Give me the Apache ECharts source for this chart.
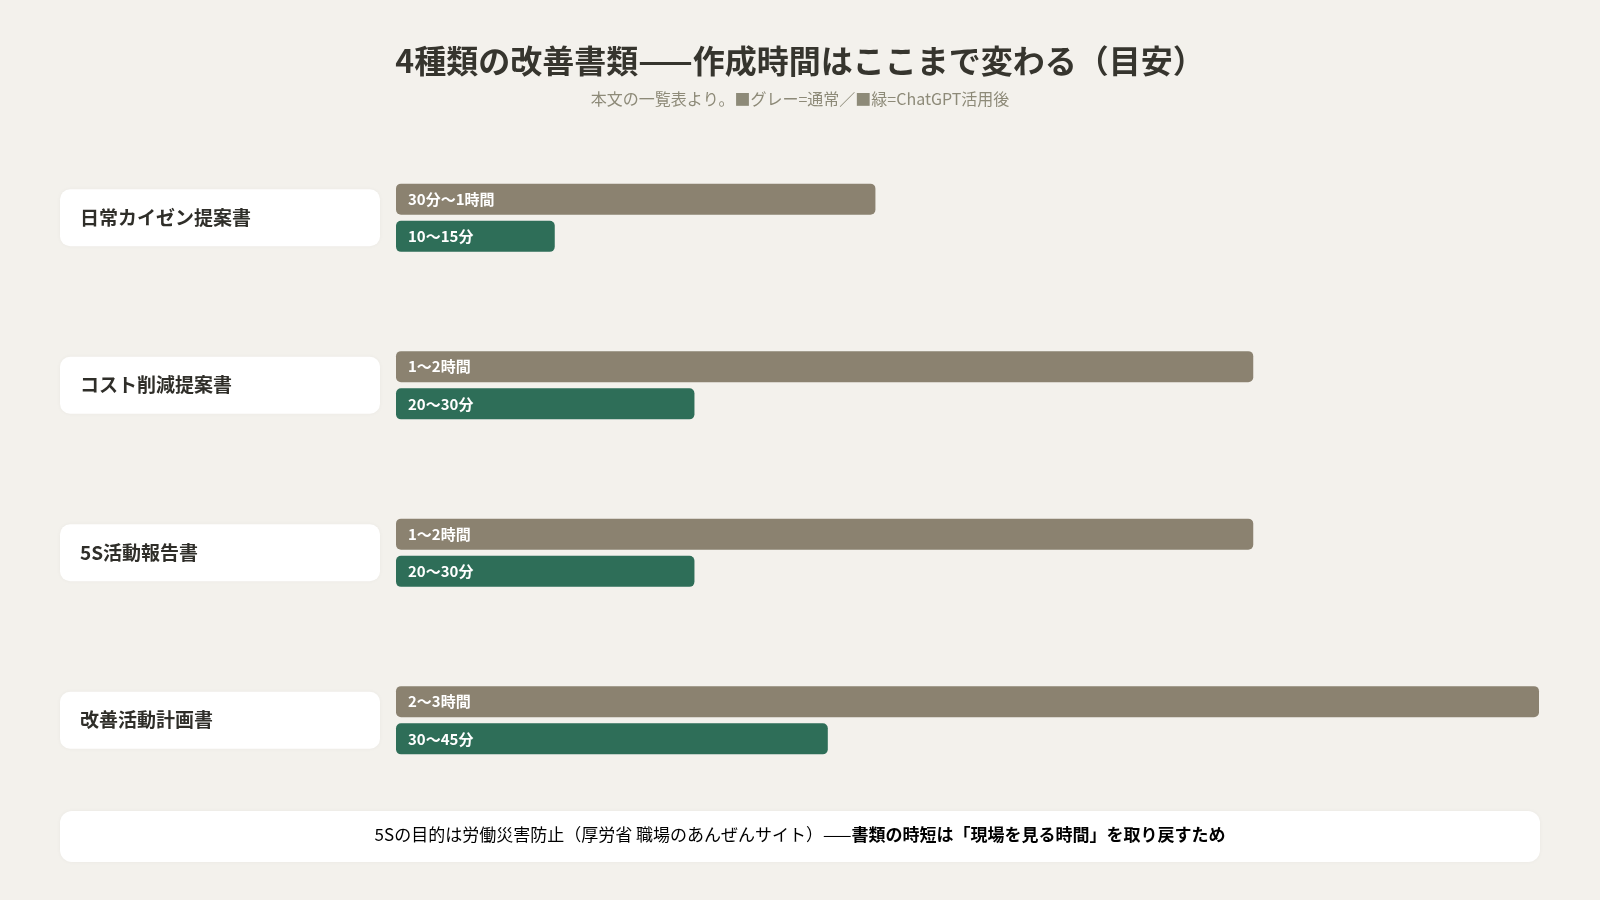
<!DOCTYPE html>
<html><head><meta charset="utf-8">
<script src="https://cdn.jsdelivr.net/npm/echarts@6/dist/echarts.min.js"></script>
<style>html,body{margin:0;background:#F3F1EC}#chart{width:1600px;height:900px}</style>
</head><body><div id="chart"></div>
<script>
var categories = ['日常カイゼン提案書', 'コスト削減提案書', '5S活動報告書', '改善活動計画書'];
var normalValues = [75.5, 135, 135, 180];   // minutes (bar length as drawn)
var gptValues = [25, 47, 47, 68];
var normalLabels = ['30分〜1時間', '1〜2時間', '1〜2時間', '2〜3時間'];
var gptLabels = ['10〜15分', '20〜30分', '20〜30分', '30〜45分'];
var FONT = '"Noto Sans CJK JP", sans-serif';

var chart = echarts.init(document.getElementById('chart'));
function lab(arr) {
  return {
    show: true, position: 'insideLeft', distance: 12, color: '#fff',
    fontWeight: 'bold', fontSize: 15, fontFamily: FONT,
    formatter: function (p) { return arr[p.dataIndex]; }
  };
}
chart.setOption({
  backgroundColor: '#F3F1EC',
  animation: false,
  title: {
    text: '4種類の改善書類——作成時間はここまで変わる（目安）',
    subtext: '本文の一覧表より。■グレー=通常／■緑=ChatGPT活用後',
    left: 'center', top: 40, itemGap: 14,
    textStyle: { fontSize: 32, fontWeight: 'bold', color: '#36352e', fontFamily: FONT },
    subtextStyle: { fontSize: 16, color: '#8d8a78', fontFamily: FONT }
  },
  grid: { left: 396, right: 61, top: 134, height: 670 },
  xAxis: { type: 'value', min: 0, max: 180, show: false },
  yAxis: {
    type: 'category', data: categories, inverse: true,
    axisLine: { show: false }, axisTick: { show: false },
    axisLabel: {
      margin: 336, align: 'left', backgroundColor: '#fff', borderRadius: 10,
      width: 300, height: 57, lineHeight: 57, padding: [0, 0, 0, 20],
      fontSize: 19, fontWeight: 'bold', color: '#2f2e29', fontFamily: FONT,
      shadowColor: 'rgba(0,0,0,0.04)', shadowBlur: 4
    }
  },
  series: [
    { type: 'bar', data: normalValues, barWidth: 31, barGap: '20%',
      itemStyle: { color: '#8B8270', borderRadius: 5 }, label: lab(normalLabels) },
    { type: 'bar', data: gptValues, barWidth: 31,
      itemStyle: { color: '#2E6E58', borderRadius: 5 }, label: lab(gptLabels) }
  ],
  graphic: [
    { type: 'rect', left: 60, top: 811, shape: { width: 1480, height: 51, r: 12 },
      style: { fill: '#fff', shadowColor: 'rgba(0,0,0,0.04)', shadowBlur: 4 } },
    { type: 'text', left: 'center', top: 826,
      style: {
        text: '{a|5Sの目的は労働災害防止（厚労省 職場のあんぜんサイト）——}{b|書類の時短は「現場を見る時間」を取り戻すため}',
        rich: {
          a: { fontSize: 17, color: '#3a3934', fontFamily: FONT },
          b: { fontSize: 17, color: '#2E6E58', fontWeight: 'bold', fontFamily: FONT }
        }
      } }
  ]
});
</script></body></html>
